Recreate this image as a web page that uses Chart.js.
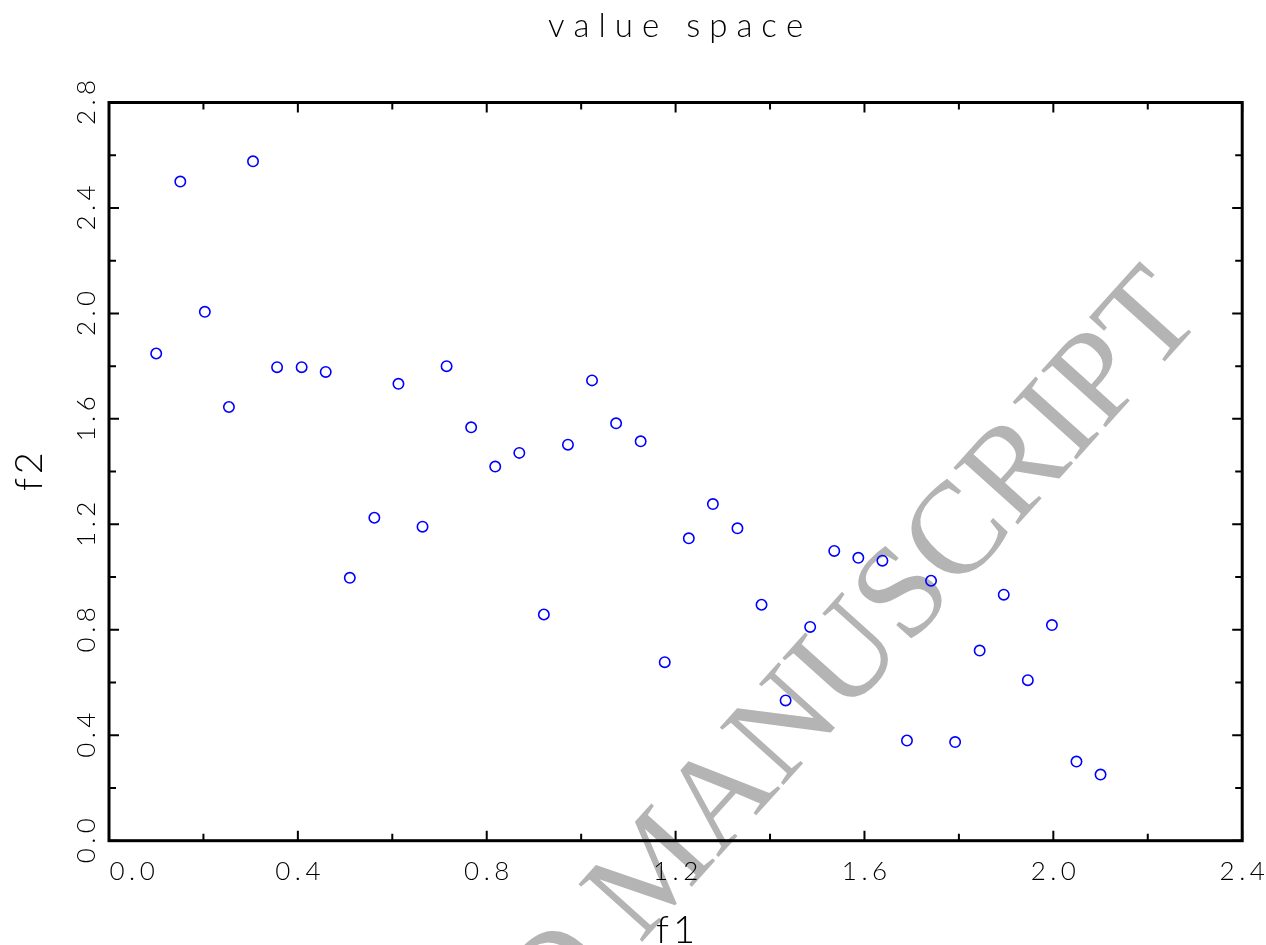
<!DOCTYPE html>
<html>
<head>
<meta charset="utf-8">
<script src="https://cdn.jsdelivr.net/npm/chart.js@4.4.1/dist/chart.umd.min.js"></script>
<style>
html,body{margin:0;padding:0;background:#ffffff;}
#wrap{width:1266px;height:945px;position:relative;}
</style>
</head>
<body>
<div id="wrap"><canvas id="c"></canvas></div>
<script>
// ---- data ----
const f1Values = [0.100, 0.151, 0.203, 0.254, 0.305, 0.356, 0.408, 0.459, 0.510, 0.562,
                  0.613, 0.664, 0.715, 0.767, 0.818, 0.869, 0.921, 0.972, 1.023, 1.074,
                  1.126, 1.177, 1.228, 1.279, 1.331, 1.382, 1.433, 1.485, 1.536, 1.587,
                  1.638, 1.690, 1.741, 1.792, 1.844, 1.895, 1.946, 1.997, 2.049, 2.100];
const f2Values = [1.848, 2.500, 2.006, 1.645, 2.577, 1.796, 1.796, 1.778, 0.997, 1.225,
                  1.733, 1.191, 1.800, 1.568, 1.419, 1.471, 0.858, 1.502, 1.746, 1.583,
                  1.515, 0.677, 1.147, 1.277, 1.185, 0.895, 0.532, 0.811, 1.099, 1.073,
                  1.062, 0.380, 0.986, 0.374, 0.721, 0.933, 0.609, 0.818, 0.300, 0.251];
const xTickValues = [0.0, 0.4, 0.8, 1.2, 1.6, 2.0, 2.4];
const yTickValues = [0.0, 0.4, 0.8, 1.2, 1.6, 2.0, 2.4, 2.8];
const xMinorTicks = [0.2, 0.6, 1.0, 1.4, 1.8, 2.2];
const yMinorTicks = [0.2, 0.6, 1.0, 1.4, 1.8, 2.2, 2.6];
const chartTitle = 'value space';
const xAxisTitle = 'f1';
const yAxisTitle = 'f2';
const watermarkText = 'ACCEPTED MANUSCRIPT';

const FONT = "Lato, 'DejaVu Sans', sans-serif";

function drawSpaced(ctx, text, x, y, ls, align) {
  ctx.textAlign = 'left';
  const ws = [...text].map(ch => ctx.measureText(ch).width);
  const total = ws.reduce((a, b) => a + b, 0) + ls * (ws.length - 1);
  let sx = align === 'center' ? x - total / 2 : (align === 'right' ? x - total : x);
  [...text].forEach((ch, i) => { ctx.fillText(ch, sx, y); sx += ws[i] + ls; });
}

const decor = {
  id: 'decor',
  beforeDraw(chart) {
    const ctx = chart.ctx;
    ctx.save();
    ctx.font = "131px 'Liberation Serif', 'DejaVu Serif', serif";
    ctx.fillStyle = '#b4b4b4';
    ctx.textBaseline = 'alphabetic';
    ctx.textAlign = 'left';
    const pre = ctx.measureText('ACCEPTED MANU').width + ctx.measureText('S').width / 2;
    ctx.translate(932, 620);
    ctx.rotate(-48 * Math.PI / 180);
    ctx.fillText(watermarkText, -pre, 0);
    ctx.restore();
  },
  afterDraw(chart) {
    const ctx = chart.ctx;
    const a = chart.chartArea;
    const xs = chart.scales.x, ys = chart.scales.y;
    ctx.save();
    ctx.strokeStyle = '#000';
    ctx.fillStyle = '#000';
    // ticks
    ctx.lineWidth = 2;
    ctx.beginPath();
    const tickX = (vals, len) => vals.forEach(v => {
      const px = xs.getPixelForValue(v);
      ctx.moveTo(px, a.bottom); ctx.lineTo(px, a.bottom - len);
      ctx.moveTo(px, a.top); ctx.lineTo(px, a.top + len);
    });
    const tickY = (vals, len) => vals.forEach(v => {
      const py = ys.getPixelForValue(v);
      ctx.moveTo(a.left, py); ctx.lineTo(a.left + len, py);
      ctx.moveTo(a.right, py); ctx.lineTo(a.right - len, py);
    });
    tickX(xTickValues, 10); tickX(xMinorTicks, 7);
    tickY(yTickValues, 10); tickY(yMinorTicks, 7);
    ctx.stroke();
    // frame
    ctx.lineWidth = 3;
    ctx.strokeRect(a.left, a.top, a.right - a.left, a.bottom - a.top);

    // tick labels
    ctx.font = '300 26px ' + FONT;
    ctx.textBaseline = 'alphabetic';
    xTickValues.forEach((v, i) => {
      const px = xs.getPixelForValue(v);
      const t = v.toFixed(1);
      if (i === 0) drawSpaced(ctx, t, px + 0.5, 880, 4.5, 'left');
      else drawSpaced(ctx, t, px, 880, 4.5, 'center');
    });
    yTickValues.forEach(v => {
      const py = ys.getPixelForValue(v);
      ctx.save();
      ctx.translate(95, py);
      ctx.rotate(-Math.PI / 2);
      drawSpaced(ctx, v.toFixed(1), 0, 0, 4.5, 'center');
      ctx.restore();
    });

    // axis titles
    const cx = (a.left + a.right) / 2, cy = (a.top + a.bottom) / 2;
    ctx.font = '300 38px ' + FONT;
    drawSpaced(ctx, xAxisTitle, cx, 943, 4, 'center');
    ctx.save();
    ctx.translate(42, cy);
    ctx.rotate(-Math.PI / 2);
    drawSpaced(ctx, yAxisTitle, 0, 0, 4, 'center');
    ctx.restore();

    // chart title
    ctx.font = '300 33px ' + FONT;
    drawSpaced(ctx, chartTitle, cx, 37, 9, 'center');
    ctx.restore();
  }
};

new Chart(document.getElementById('c'), {
  type: 'scatter',
  data: {
    datasets: [{
      data: f1Values.map((x, i) => ({ x: x, y: f2Values[i] })),
      pointStyle: 'circle',
      pointRadius: 5.2,
      pointHoverRadius: 5.2,
      borderColor: '#0000ff',
      backgroundColor: 'rgba(0,0,0,0)',
      borderWidth: 1.6
    }]
  },
  options: {
    responsive: true,
    maintainAspectRatio: false,
    animation: false,
    events: [],
    layout: { padding: { left: 109, right: 23.8, top: 102.5, bottom: 104.3 } },
    plugins: { legend: { display: false }, tooltip: { enabled: false }, title: { display: false } },
    scales: {
      x: { type: 'linear', min: 0, max: 2.4, display: false },
      y: { type: 'linear', min: 0, max: 2.8, display: false }
    }
  },
  plugins: [decor]
});
</script>
</body>
</html>
